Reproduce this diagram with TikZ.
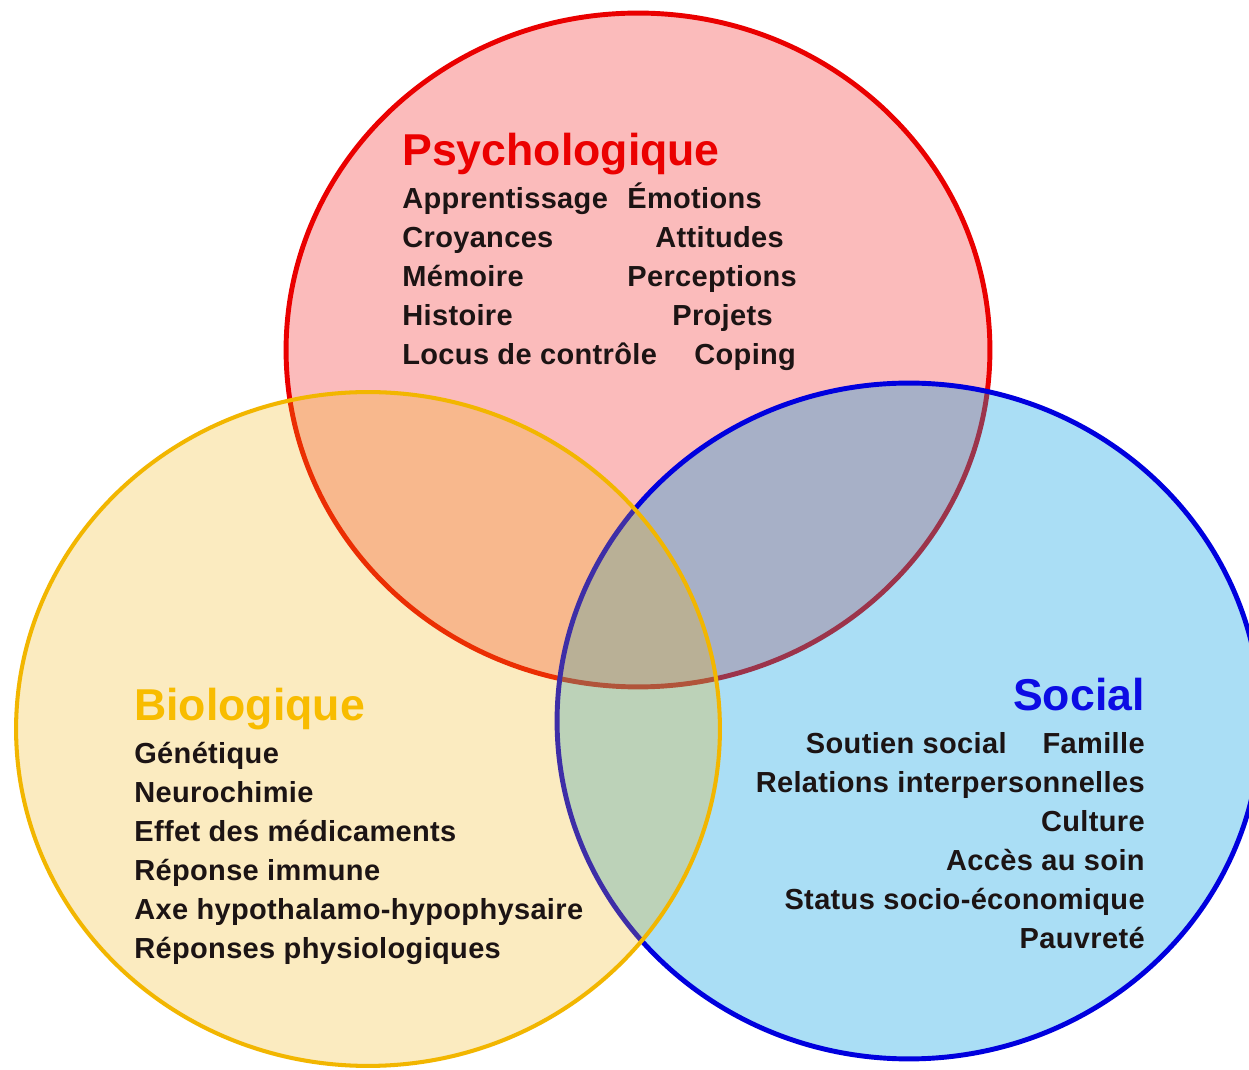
\documentclass[tikz,border=0pt]{standalone}
\usepackage{fontspec}
\setmainfont{Liberation Sans}
\newfontfamily\itemfont[LetterSpace=1.2]{Liberation Sans}
\begin{document}
\begin{tikzpicture}[x=0.02cm,y=-0.02cm]
  % colours of the three domains
  \definecolor{psyfill}{RGB}{251,187,187}
  \definecolor{psyline}{RGB}{234,0,0}
  \definecolor{biobase}{RGB}{240,178,13}
  \definecolor{bioline}{RGB}{242,182,0}
  \definecolor{socbase}{RGB}{0,156,225}
  \definecolor{socline}{RGB}{0,0,222}
  \definecolor{bodytext}{RGB}{28,20,20}
  \definecolor{psytitle}{RGB}{235,0,0}
  \definecolor{biotitle}{RGB}{248,188,0}
  \definecolor{soctitle}{RGB}{12,12,228}
  \tikzset{
    area/.style={line width=2.8pt},
    heading/.style={inner sep=0pt, font=\fontsize{25.4pt}{30pt}\selectfont\bfseries},
    item/.style={inner sep=0pt, text=bodytext, font=\itemfont\fontsize{16.5pt}{20pt}\selectfont\bfseries},
  }
  \useasboundingbox (0,0) rectangle (1249,1070);
  \clip (0,0) rectangle (1249,1070);
  \fill[white] (0,0) rectangle (1249,1070);

  % the three overlapping domains
  \draw[area, draw=psyline, fill=psyfill] (638,350) ellipse [x radius=7.04cm, y radius=6.74cm];
  \draw[area, draw=socline, fill=socbase, fill opacity=0.333] (909,721) ellipse [x radius=7.04cm, y radius=6.76cm];
  \draw[area, line width=2.3pt, draw=bioline, fill=biobase, fill opacity=0.26] (368,729) ellipse [x radius=7.04cm, y radius=6.74cm];

  % Psychologique
  \node[heading, text=psytitle, anchor=base west] (psyT) at (402,166) {Psychologique};
  \node[item, anchor=base west] (psy1) at (402,209) {Apprentissage};
  \node[item, anchor=base west] (psy2) at (627,209) {Émotions};
  \node[item, anchor=base west] (psy3) at (402,248) {Croyances};
  \node[item, anchor=base west] (psy4) at (655,248) {Attitudes};
  \node[item, anchor=base west] (psy5) at (402,287) {Mémoire};
  \node[item, anchor=base west] (psy6) at (627,287) {Perceptions};
  \node[item, anchor=base west] (psy7) at (402,326) {Histoire};
  \node[item, anchor=base west] (psy8) at (672,326) {Projets};
  \node[item, anchor=base west] (psy9) at (402,365) {Locus de contrôle};
  \node[item, anchor=base west] (psy10) at (694,365) {Coping};

  % Biologique
  \node[heading, text=biotitle, anchor=base west] (bioT) at (134,721) {Biologique};
  \node[item, anchor=base west] (bio1) at (134,764) {Génétique};
  \node[item, anchor=base west] (bio2) at (134,803) {Neurochimie};
  \node[item, anchor=base west] (bio3) at (134,842) {Effet des médicaments};
  \node[item, anchor=base west] (bio4) at (134,881) {Réponse immune};
  \node[item, anchor=base west] (bio5) at (134,920) {Axe hypothalamo-hypophysaire};
  \node[item, anchor=base west] (bio6) at (134,959) {Réponses physiologiques};

  % Social
  \node[heading, text=soctitle, anchor=base east] (socT) at (1145,711) {Social};
  \node[item, anchor=base east] (soc1) at (1007,754) {Soutien social};
  \node[item, anchor=base east] (soc2) at (1145,754) {Famille};
  \node[item, anchor=base east] (soc3) at (1145,793) {Relations interpersonnelles};
  \node[item, anchor=base east] (soc4) at (1145,832) {Culture};
  \node[item, anchor=base east] (soc5) at (1145,871) {Accès au soin};
  \node[item, anchor=base east] (soc6) at (1145,910) {Status socio-économique};
  \node[item, anchor=base east] (soc7) at (1145,949) {Pauvreté};
\end{tikzpicture}
\end{document}
